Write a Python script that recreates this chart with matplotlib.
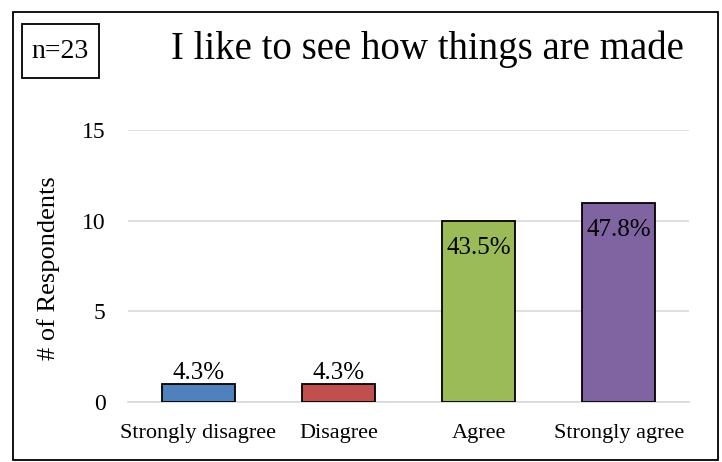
import matplotlib
matplotlib.use("Agg")
import matplotlib.pyplot as plt
from matplotlib.patches import Rectangle

categories = ["Strongly disagree", "Disagree", "Agree", "Strongly agree"]
counts = [1, 1, 10, 11]
pct_labels = ["4.3%", "4.3%", "43.5%", "47.8%"]
colors = ["#4F81BD", "#C0504D", "#9BBB59", "#8064A2"]
n_total = 23
title = "I like to see how things are made"

plt.rcParams["font.family"] = ["Liberation Serif", "DejaVu Serif"]

W, H = 722, 462
fig = plt.figure(figsize=(W / 100, H / 100), dpi=100)
ax = fig.add_axes([128 / W, 60 / H, 561 / W, 272 / H])

x = range(len(categories))
bars = ax.bar(x, counts, width=0.52, color=colors, edgecolor="black", linewidth=1.3, zorder=3)

# small bars get the label above, tall bars get it just inside the top
for b, lab, c in zip(bars, pct_labels, counts):
    cx = b.get_x() + b.get_width() / 2
    if c < 5:
        ax.annotate(lab, (cx, c), xytext=(0, 0), textcoords="offset points",
                    ha="center", va="bottom", fontsize=18)
    else:
        ax.annotate(lab, (cx, c), xytext=(0, -12), textcoords="offset points",
                    ha="center", va="top", fontsize=18)

ax.set_ylim(0, 15)
ax.set_xlim(-0.5, len(categories) - 0.5)
ax.set_yticks([0, 5, 10, 15])
ax.set_xticks(list(x))
ax.set_xticklabels(categories, fontsize=16)
ax.tick_params(axis="y", labelsize=17, length=0, pad=16)
ax.tick_params(axis="x", length=0, pad=16)
ax.grid(axis="y", color="#D9D9D9", linewidth=1.2, zorder=0)
for s in ["top", "right", "left"]:
    ax.spines[s].set_visible(False)
ax.spines["bottom"].set_color("#D9D9D9")
ax.spines["bottom"].set_linewidth(1.2)

fig.text(49 / W, 1 - 268 / H, "# of Respondents", fontsize=19, rotation=90,
         ha="center", va="center")

# outer border and the sample size box
fig.patches.append(Rectangle((13 / W, 2 / H), 705 / W, 448 / H,
                             transform=fig.transFigure, fill=False,
                             edgecolor="black", linewidth=1.3))
fig.patches.append(Rectangle((22 / W, 1 - 78 / H), 77 / W, 54 / H,
                             transform=fig.transFigure, fill=False,
                             edgecolor="black", linewidth=1.3))
fig.text(60 / W, 1 - 51 / H, "n=%d" % n_total, fontsize=20, ha="center", va="center")
fig.text(427 / W, 1 - 49 / H, title, fontsize=28, ha="center", va="center")

fig.savefig("out.png", dpi=100)
